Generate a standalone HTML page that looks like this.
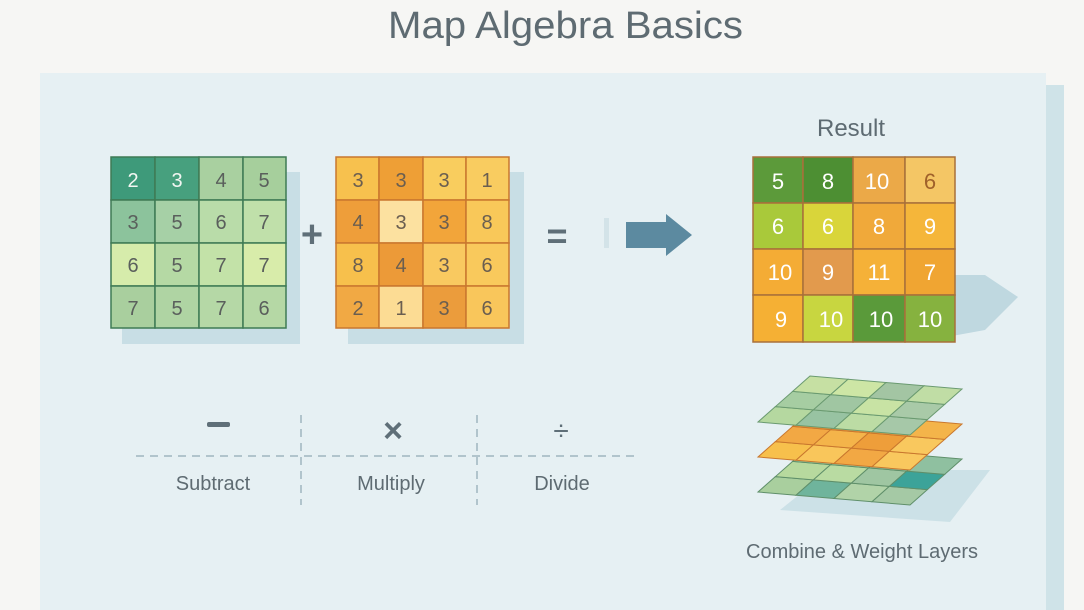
<!DOCTYPE html>
<html><head><meta charset="utf-8"><style>
html,body{margin:0;padding:0;background:#f6f6f4;}
svg{display:block;font-family:"Liberation Sans",sans-serif;}
</style></head><body>
<svg width="1084" height="610" viewBox="0 0 1084 610" xmlns="http://www.w3.org/2000/svg">
<rect x="0" y="0" width="1084" height="610" fill="#f6f6f4"/>
<rect x="40" y="73" width="1006" height="540" fill="#e6f0f3"/>
<rect x="1046" y="85" width="18" height="525" fill="#cfe3e8"/>
<text x="388" y="38" textLength="355" lengthAdjust="spacingAndGlyphs" font-size="38" fill="#5e6b72">Map Algebra Basics</text>

<!-- shadows -->
<rect x="122" y="172" width="178" height="172" fill="#c8dee5"/>
<rect x="348" y="172" width="176" height="172" fill="#c8dee5"/>
<polygon points="930,275 985,275 1018,297 985,330 930,340" fill="#bfd8e0"/>

<!-- green grid -->
<g stroke="#3f7b55" stroke-width="1.5">
<rect x="111" y="157" width="44" height="43" fill="#3e9a7a"/>
<rect x="155" y="157" width="44" height="43" fill="#47a07e"/>
<rect x="199" y="157" width="44" height="43" fill="#a9d0a0"/>
<rect x="243" y="157" width="43" height="43" fill="#a6cf9c"/>
<rect x="111" y="200" width="44" height="43" fill="#8cc39c"/>
<rect x="155" y="200" width="44" height="43" fill="#a6d0a6"/>
<rect x="199" y="200" width="44" height="43" fill="#b9dca9"/>
<rect x="243" y="200" width="43" height="43" fill="#c0e0aa"/>
<rect x="111" y="243" width="44" height="43" fill="#d6ecab"/>
<rect x="155" y="243" width="44" height="43" fill="#b5d9a4"/>
<rect x="199" y="243" width="44" height="43" fill="#c3e2a8"/>
<rect x="243" y="243" width="43" height="43" fill="#d8ecaa"/>
<rect x="111" y="286" width="44" height="42" fill="#a9cf9e"/>
<rect x="155" y="286" width="44" height="42" fill="#afd4a3"/>
<rect x="199" y="286" width="44" height="42" fill="#b5d8a6"/>
<rect x="243" y="286" width="43" height="42" fill="#b5d8a5"/>
</g>
<g font-size="20" text-anchor="middle" fill="#5a5f5c">
<text x="133" y="187" fill="#f2f6f2">2</text><text x="177" y="187" fill="#f2f6f2">3</text><text x="221" y="187">4</text><text x="264" y="187">5</text>
<text x="133" y="229">3</text><text x="177" y="229">5</text><text x="221" y="229">6</text><text x="264" y="229">7</text>
<text x="133" y="272">6</text><text x="177" y="272">5</text><text x="221" y="272">7</text><text x="264" y="272">7</text>
<text x="133" y="315">7</text><text x="177" y="315">5</text><text x="221" y="315">7</text><text x="264" y="315">6</text>
</g>

<text x="312" y="247" text-anchor="middle" font-size="38" font-weight="bold" fill="#5f6f78">+</text>

<!-- orange grid -->
<g stroke="#c9772e" stroke-width="1.5">
<rect x="336" y="157" width="43" height="43" fill="#f7c14e"/>
<rect x="379" y="157" width="44" height="43" fill="#ee9f36"/>
<rect x="423" y="157" width="43" height="43" fill="#f9cd5e"/>
<rect x="466" y="157" width="43" height="43" fill="#f9cc60"/>
<rect x="336" y="200" width="43" height="43" fill="#ee9e3a"/>
<rect x="379" y="200" width="44" height="43" fill="#fce1a0"/>
<rect x="423" y="200" width="43" height="43" fill="#f2a53a"/>
<rect x="466" y="200" width="43" height="43" fill="#f9c859"/>
<rect x="336" y="243" width="43" height="43" fill="#f7c04c"/>
<rect x="379" y="243" width="44" height="43" fill="#ec9a38"/>
<rect x="423" y="243" width="43" height="43" fill="#f9c960"/>
<rect x="466" y="243" width="43" height="43" fill="#f9c95c"/>
<rect x="336" y="286" width="43" height="42" fill="#f1a944"/>
<rect x="379" y="286" width="44" height="42" fill="#fcdc94"/>
<rect x="423" y="286" width="43" height="42" fill="#eb9c3c"/>
<rect x="466" y="286" width="43" height="42" fill="#f9c65b"/>
</g>
<g font-size="20" text-anchor="middle" fill="#6a5e50">
<text x="358" y="187">3</text><text x="401" y="187">3</text><text x="444" y="187">3</text><text x="487" y="187">1</text>
<text x="358" y="229">4</text><text x="401" y="229">3</text><text x="444" y="229">3</text><text x="487" y="229">8</text>
<text x="358" y="272">8</text><text x="401" y="272">4</text><text x="444" y="272">3</text><text x="487" y="272">6</text>
<text x="358" y="315">2</text><text x="401" y="315">1</text><text x="444" y="315">3</text><text x="487" y="315">6</text>
</g>

<text x="557" y="248" text-anchor="middle" font-size="36" font-weight="bold" fill="#5f6f78">=</text>
<rect x="604" y="218" width="5" height="30" fill="#d3e3e8"/>
<polygon points="626,222 666,222 666,214 692,235 666,256 666,248 626,248" fill="#5c8aa0"/>

<text x="851" y="136" text-anchor="middle" font-size="24" fill="#5e6b72">Result</text>

<!-- result grid -->
<g stroke="#a8703a" stroke-width="1.5">
<rect x="753" y="157" width="50" height="46" fill="#5c9a3a"/>
<rect x="803" y="157" width="50" height="46" fill="#4d8f33"/>
<rect x="853" y="157" width="52" height="46" fill="#eba948"/>
<rect x="905" y="157" width="50" height="46" fill="#f4c665"/>
<rect x="753" y="203" width="50" height="46" fill="#a9c93a"/>
<rect x="803" y="203" width="50" height="46" fill="#d9d53a"/>
<rect x="853" y="203" width="52" height="46" fill="#f0a93a"/>
<rect x="905" y="203" width="50" height="46" fill="#f5b63a"/>
<rect x="753" y="249" width="50" height="46" fill="#f4ac35"/>
<rect x="803" y="249" width="50" height="46" fill="#e29a4d"/>
<rect x="853" y="249" width="52" height="46" fill="#f5b138"/>
<rect x="905" y="249" width="50" height="46" fill="#f0a532"/>
<rect x="753" y="295" width="50" height="47" fill="#f5b034"/>
<rect x="803" y="295" width="50" height="47" fill="#c8d640"/>
<rect x="853" y="295" width="52" height="47" fill="#5a9a3a"/>
<rect x="905" y="295" width="50" height="47" fill="#86b23f"/>
</g>
<g font-size="22" text-anchor="middle" fill="#ffffff">
<text x="778" y="189">5</text><text x="828" y="189">8</text><text x="877" y="189">10</text><text x="930" y="189" fill="#a0612a">6</text>
<text x="778" y="234">6</text><text x="828" y="234">6</text><text x="879" y="234">8</text><text x="930" y="234">9</text>
<text x="780" y="280">10</text><text x="828" y="280">9</text><text x="879" y="280">11</text><text x="930" y="280">7</text>
<text x="781" y="327">9</text><text x="831" y="327">10</text><text x="881" y="327">10</text><text x="930" y="327">10</text>
</g>

<!-- layers -->
<polygon points="780,510 830,470 990,470 950,522" fill="#c6dde4" opacity="0.8"/>
<!-- bottom green layer -->
<g transform="matrix(38 3.25 17.33 -15.33 758 492)" stroke="#5f8f6a" stroke-width="1" vector-effect="non-scaling-stroke">
<rect x="0" y="0" width="1" height="1" fill="#a9cf9e" vector-effect="non-scaling-stroke"/>
<rect x="1" y="0" width="1" height="1" fill="#6fb49c" vector-effect="non-scaling-stroke"/>
<rect x="2" y="0" width="1" height="1" fill="#b1d3a8" vector-effect="non-scaling-stroke"/>
<rect x="3" y="0" width="1" height="1" fill="#a5c9a5" vector-effect="non-scaling-stroke"/>
<rect x="0" y="1" width="1" height="1" fill="#b7d99e" vector-effect="non-scaling-stroke"/>
<rect x="1" y="1" width="1" height="1" fill="#b9dba2" vector-effect="non-scaling-stroke"/>
<rect x="2" y="1" width="1" height="1" fill="#9fc6a2" vector-effect="non-scaling-stroke"/>
<rect x="3" y="1" width="1" height="1" fill="#3ca399" vector-effect="non-scaling-stroke"/>
<rect x="0" y="2" width="1" height="1" fill="#a9cf9e" vector-effect="non-scaling-stroke"/>
<rect x="1" y="2" width="1" height="1" fill="#b0d3a0" vector-effect="non-scaling-stroke"/>
<rect x="2" y="2" width="1" height="1" fill="#a3c8a3" vector-effect="non-scaling-stroke"/>
<rect x="3" y="2" width="1" height="1" fill="#8fc0a0" vector-effect="non-scaling-stroke"/>
</g>
<!-- orange layer -->
<g transform="matrix(38 3.25 17.33 -15.33 758 457)">
<rect x="0" y="0" width="1" height="1" fill="#f7c04c" stroke="#c9772e" vector-effect="non-scaling-stroke"/>
<rect x="1" y="0" width="1" height="1" fill="#f9c65b" stroke="#c9772e" vector-effect="non-scaling-stroke"/>
<rect x="2" y="0" width="1" height="1" fill="#f2a844" stroke="#c9772e" vector-effect="non-scaling-stroke"/>
<rect x="3" y="0" width="1" height="1" fill="#f9c85e" stroke="#c9772e" vector-effect="non-scaling-stroke"/>
<rect x="0" y="1" width="1" height="1" fill="#f2a844" stroke="#c9772e" vector-effect="non-scaling-stroke"/>
<rect x="1" y="1" width="1" height="1" fill="#f4b44a" stroke="#c9772e" vector-effect="non-scaling-stroke"/>
<rect x="2" y="1" width="1" height="1" fill="#ee9e3a" stroke="#c9772e" vector-effect="non-scaling-stroke"/>
<rect x="3" y="1" width="1" height="1" fill="#f9c85e" stroke="#c9772e" vector-effect="non-scaling-stroke"/>
<rect x="0" y="2" width="1" height="1" fill="#ee9e3a" stroke="#c9772e" vector-effect="non-scaling-stroke"/>
<rect x="1" y="2" width="1" height="1" fill="#ee9e3a" stroke="#c9772e" vector-effect="non-scaling-stroke"/>
<rect x="2" y="2" width="1" height="1" fill="#f2a844" stroke="#c9772e" vector-effect="non-scaling-stroke"/>
<rect x="3" y="2" width="1" height="1" fill="#f4b44a" stroke="#c9772e" vector-effect="non-scaling-stroke"/>
</g>
<!-- top green layer -->
<g transform="matrix(38 3.25 17.33 -15.33 758 422)">
<rect x="0" y="0" width="1" height="1" fill="#b5d8a0" stroke="#6a9a70" vector-effect="non-scaling-stroke"/>
<rect x="1" y="0" width="1" height="1" fill="#98c3a2" stroke="#6a9a70" vector-effect="non-scaling-stroke"/>
<rect x="2" y="0" width="1" height="1" fill="#bcdca4" stroke="#6a9a70" vector-effect="non-scaling-stroke"/>
<rect x="3" y="0" width="1" height="1" fill="#a6c8a8" stroke="#6a9a70" vector-effect="non-scaling-stroke"/>
<rect x="0" y="1" width="1" height="1" fill="#a6cda2" stroke="#6a9a70" vector-effect="non-scaling-stroke"/>
<rect x="1" y="1" width="1" height="1" fill="#a0c6a2" stroke="#6a9a70" vector-effect="non-scaling-stroke"/>
<rect x="2" y="1" width="1" height="1" fill="#c8e3a4" stroke="#6a9a70" vector-effect="non-scaling-stroke"/>
<rect x="3" y="1" width="1" height="1" fill="#a9caa8" stroke="#6a9a70" vector-effect="non-scaling-stroke"/>
<rect x="0" y="2" width="1" height="1" fill="#c6e0a3" stroke="#6a9a70" vector-effect="non-scaling-stroke"/>
<rect x="1" y="2" width="1" height="1" fill="#cde6a5" stroke="#6a9a70" vector-effect="non-scaling-stroke"/>
<rect x="2" y="2" width="1" height="1" fill="#a3c5a3" stroke="#6a9a70" vector-effect="non-scaling-stroke"/>
<rect x="3" y="2" width="1" height="1" fill="#c0dda5" stroke="#6a9a70" vector-effect="non-scaling-stroke"/>
</g>
<text x="862" y="558" text-anchor="middle" font-size="20" fill="#5e6b72">Combine &amp; Weight Layers</text>

<!-- operations -->
<g stroke="#9fb6c0" stroke-width="1.5" stroke-dasharray="8,6" fill="none">
<line x1="136" y1="456" x2="640" y2="456"/>
<line x1="301" y1="415" x2="301" y2="505"/>
<line x1="477" y1="415" x2="477" y2="505"/>
</g>
<rect x="207" y="422" width="23" height="5" rx="2" fill="#5f6f78"/>
<text x="393" y="442" text-anchor="middle" font-size="34" font-weight="bold" fill="#5f6f78">×</text>
<text x="561" y="440" text-anchor="middle" font-size="28" fill="#5f6f78">÷</text>
<g font-size="20" text-anchor="middle" fill="#5e6b72">
<text x="213" y="490">Subtract</text>
<text x="391" y="490">Multiply</text>
<text x="562" y="490">Divide</text>
</g>
</svg>
</body></html>
